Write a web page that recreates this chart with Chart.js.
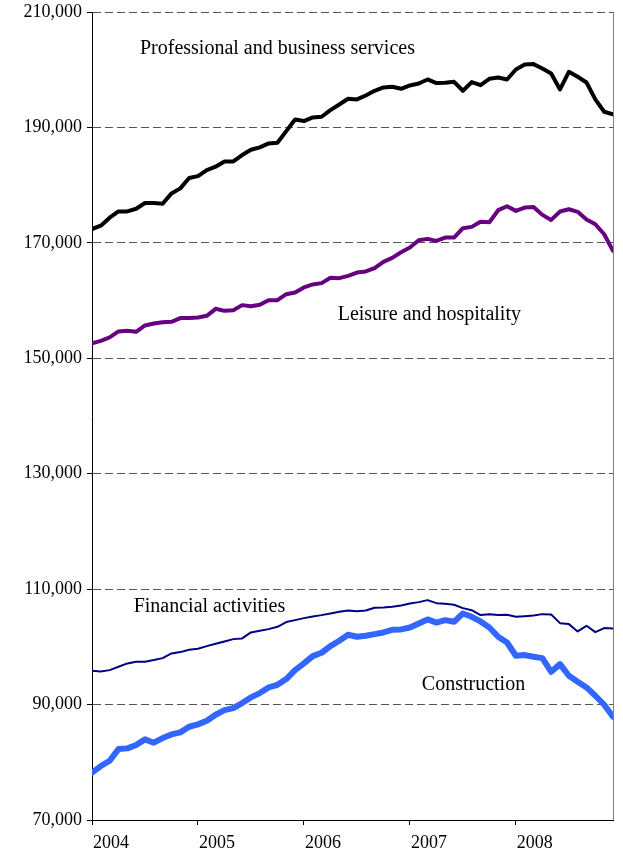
<!DOCTYPE html>
<html>
<head>
<meta charset="utf-8">
<script src="https://cdn.jsdelivr.net/npm/chart.js@4/dist/chart.umd.min.js"></script>
<style>
 html,body{margin:0;padding:0;background:#fff;}
 #wrap{width:623px;height:858px;position:relative;}
</style>
</head>
<body>
<div id="wrap"><canvas id="empChart"></canvas></div>
<script>
// monthly, Jan 2004 .. Dec 2008
const months=[];
for(let i=0;i<60;i++) months.push(i);
const yearLabels=['2004','2005','2006','2007','2008'];
const yTicks=[70000,90000,110000,130000,150000,170000,190000,210000];

const professional=[172400,172970,174360,175450,175450,175910,176900,176900,176780,178570,
 179440,181230,181570,182610,183190,184110,184110,185210,186130,186540,
 187230,187340,189360,191380,191100,191730,191850,193000,193980,194960,
 194850,195540,196350,196930,197040,196700,197270,197620,198310,197680,
 197730,197900,196350,197850,197330,198430,198660,198310,200040,200910,
 200970,200220,199350,196580,199640,198780,197790,194850,192710,192250];

const leisure=[152570,153030,153610,154650,154760,154590,155690,156030,156260,156320,
 156960,156960,157070,157360,158570,158220,158340,159210,159030,159260,
 160070,160070,161110,161400,162270,162790,163020,163940,163880,164290,
 164860,165040,165610,166710,167400,168380,169190,170460,170690,170350,
 170920,170920,172540,172770,173640,173580,175660,176350,175540,176120,
 176230,174850,173980,175430,175830,175370,174040,173230,171500,168610];

const financial=[95860,95740,95970,96550,97130,97420,97420,97710,98050,98860,
 99090,99490,99670,100130,100530,100940,101340,101460,102500,102790,
 103070,103480,104290,104630,104980,105270,105500,105790,106070,106310,
 106190,106310,106770,106830,106940,107170,107520,107750,108100,107570,
 107460,107290,106710,106360,105500,105670,105500,105560,105210,105320,
 105440,105670,105610,104110,103940,102670,103650,102550,103250,103190];

const construction=[78200,79350,80270,82290,82410,82990,83970,83390,84200,84830,
 85180,86160,86570,87200,88240,89050,89390,90260,91240,91990,
 92970,93430,94420,95970,97130,98400,98980,100130,101050,102090,
 101750,101920,102210,102500,102960,103020,103360,104050,104750,104200,
 104630,104340,105790,105210,104400,103360,101750,100760,98460,98570,
 98280,98050,95680,97010,94990,93950,92970,91530,89970,87890];

const seriesNames=['Professional and business services','Leisure and hospitality','Financial activities','Construction'];

// where the series names sit, in data units (month, value)
const nameSpots=[
 {x:21.0,y:203600},
 {x:38.2,y:157500},
 {x:13.3,y:106950},
 {x:43.2,y:93450}
];

const serif='"Liberation Serif","Times New Roman",serif';

const toPts=arr=>arr.map((v,i)=>({x:months[i],y:v}));

const namesPlugin={
 id:'names',
 afterDatasetsDraw(c){
  const ctx=c.ctx,xs=c.scales.x,ys=c.scales.y,a=c.chartArea;
  ctx.save();
  ctx.font='20px '+serif;
  ctx.fillStyle='#000';
  ctx.textAlign='center';
  ctx.textBaseline='middle';
  seriesNames.forEach((n,i)=>{
   ctx.fillText(n,xs.getPixelForValue(nameSpots[i].x),ys.getPixelForValue(nameSpots[i].y));
  });
  // right frame edge
  ctx.strokeStyle='#808080';
  ctx.lineWidth=1;
  ctx.beginPath();
  ctx.moveTo(Math.round(a.right)+0.5,a.top);
  ctx.lineTo(Math.round(a.right)+0.5,a.bottom);
  ctx.stroke();
  ctx.restore();
 }
};

new Chart(document.getElementById('empChart'),{
 type:'line',
 data:{
  datasets:[
   {label:seriesNames[0],data:toPts(professional),borderColor:'#000',borderWidth:4,order:3},
   {label:seriesNames[1],data:toPts(leisure),borderColor:'#660080',borderWidth:4,order:2},
   {label:seriesNames[2],data:toPts(financial),borderColor:'#000080',borderWidth:2,order:1},
   {label:seriesNames[3],data:toPts(construction),borderColor:'#3366ff',borderWidth:6,order:0}
  ]
 },
 options:{
  responsive:true,maintainAspectRatio:false,animation:false,
  layout:{padding:{left:0,right:10,top:12,bottom:0}},
  elements:{point:{radius:0},line:{tension:0,borderJoinStyle:'round',borderCapStyle:'round'}},
  plugins:{legend:{display:false},tooltip:{enabled:false}},
  scales:{
   x:{
    type:'linear',min:0,max:59,
    afterBuildTicks:s=>{s.ticks=[0,12,24,36,48].map(v=>({value:v}));},
    afterFit:s=>{s.height=38;s.paddingLeft=0;s.paddingRight=0;},
    border:{display:true,color:'#000',width:1},
    grid:{drawOnChartArea:false,tickLength:5,color:'#000'},
    ticks:{color:'#000',font:{family:serif,size:18},padding:7,labelOffset:19,maxRotation:0,
     callback:(v)=>yearLabels[v/12]}
   },
   y:{
    min:70000,max:210000,
    afterBuildTicks:s=>{s.ticks=yTicks.map(v=>({value:v}));},
    afterFit:s=>{s.width=92;s.paddingTop=0;s.paddingBottom=0;},
    border:{display:true,color:'#000',width:1,dash:[8,4]},
    grid:{color:'#555',tickLength:5,tickColor:'#000',tickBorderDash:[]},
    ticks:{color:'#000',font:{family:serif,size:18},padding:5,
     callback:v=>v.toLocaleString('en-US')}
   }
  }
 },
 plugins:[namesPlugin]
});
</script>
</body>
</html>
